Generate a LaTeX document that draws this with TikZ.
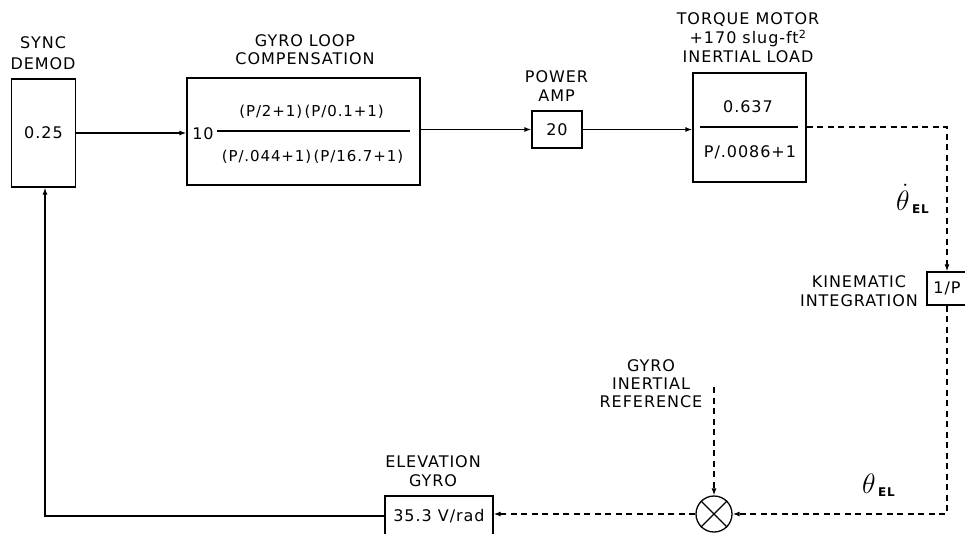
\documentclass[tikz,border=0pt]{standalone}
\usepackage{fix-cm}
\usepackage{fontspec}
\setmainfont[LetterSpace=6]{DejaVu Sans}
\usetikzlibrary{arrows.meta}
\begin{document}
\begin{tikzpicture}[x=1pt,y=-1pt,
  font=\fontsize{16}{19}\selectfont,
  blk/.style={draw,line width=1.3pt,inner sep=0pt},
  lbl/.style={align=center,inner sep=0pt},
  txt/.style={inner sep=0pt},
  frac/.style={inner sep=0pt,font=\fontsize{15}{18}\selectfont},
  thlab/.style={inner sep=0pt,anchor=base west,font=\fontsize{28}{28}\selectfont},
  sublab/.style={inner sep=0pt,anchor=base west,font=\fontsize{12}{12}\bfseries\selectfont},
  sig/.style={line width=1.2pt,-{Latex[length=7pt,width=5pt]}},
  dsig/.style={sig,dash pattern=on 6pt off 4.5pt},
  fracline/.style={line width=1.2pt}]
\useasboundingbox[fill=white] (0,0) rectangle (965,533);

% blocks
\node[blk,minimum width=64pt,minimum height=108pt] (sync) at (43.5,133) {0.25};
\node[lbl,font=\fontsize{16}{20.5}\selectfont] (syncl) at (43,53) {SYNC\\DEMOD};

\node[blk,minimum width=233pt,minimum height=107pt] (comp) at (303.5,131.5) {};
\node[lbl,font=\fontsize{16}{18}\selectfont] (compl) at (305,50) {GYRO LOOP\\COMPENSATION};
\node[txt] (ten) at (203,134) {10};
\coordinate (fl1) at (217,131);
\coordinate (fr1) at (410,131);
\draw[fracline] (fl1) -- (fr1);
\node[frac] (num1) at (311.5,112) {(P/2+1)\,(P/0.1+1)};
\node[frac] (den1) at (312.5,157) {(P/.044+1)\,(P/16.7+1)};

\node[blk,minimum width=50pt,minimum height=37pt] (amp) at (557,129.5) {20};
\node[lbl] (ampl) at (556.5,86.5) {POWER\\AMP};

\node[blk,minimum width=113pt,minimum height=109pt] (motor) at (749.5,127.5) {};
\node[lbl] (motorl) at (748,38) {TORQUE MOTOR\\+170 slug-ft\textsuperscript{2}\\INERTIAL LOAD};
\coordinate (fl2) at (700,127);
\coordinate (fr2) at (798,127);
\draw[fracline] (fl2) -- (fr2);
\node[txt] (num2) at (748,107) {0.637};
\node[txt] (den2) at (750,152) {P/.0086+1};

\node[blk,minimum width=40pt,minimum height=33pt] (integ) at (947,288.5) {1/P};
\node[lbl] (integl) at (859,291.5) {KINEMATIC\\INTEGRATION};

\node[draw,circle,line width=1.3pt,minimum size=36pt,inner sep=0pt] (sum) at (714,514) {};
\draw[line width=1.3pt] (sum.north east) -- (sum.south west);
\draw[line width=1.3pt] (sum.north west) -- (sum.south east);
\node[lbl,font=\fontsize{16}{18}\selectfont] (refl) at (651,384) {GYRO\\INERTIAL\\REFERENCE};
\coordinate (reftop) at (714,387);

\node[blk,minimum width=108pt,minimum height=40pt] (elev) at (439,516) {35.3 V/rad};
\node[lbl] (elevl) at (433,471.5) {ELEVATION\\GYRO};

% signal labels
\node[thlab] (thd) at (896,210) {$\dot{\theta}$};
\node[sublab] (thdsub) at ([xshift=2pt,yshift=-3pt]thd.base east) {EL};
\node[thlab] (th) at (862,493) {$\theta$};
\node[sublab] (thsub) at ([xshift=2pt,yshift=-3pt]th.base east) {EL};

% connectors
\draw[sig] (sync.east) -- (sync.east -| comp.west);
\draw[sig] (comp.east |- amp.west) -- (amp.west);
\draw[sig] (amp.east) -- (amp.east -| motor.west);
\draw[dsig] (motor.east |- fr2) -| (integ.north);
\draw[dsig] (integ.south) |- (sum.east);
\draw[dsig] (reftop) -- (sum.north);
\draw[dsig] (sum.west) -- (sum.west -| elev.east);
\draw[sig] (elev.west) -| ([xshift=1.5pt]sync.south);
\end{tikzpicture}
\end{document}
